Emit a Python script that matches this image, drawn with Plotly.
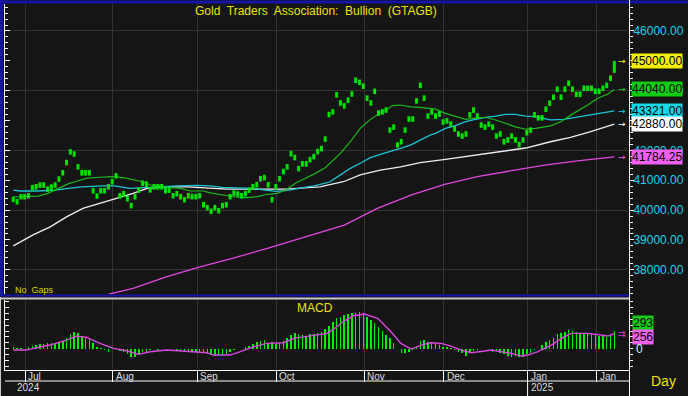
import plotly.graph_objects as go

W, H = 688, 396

# ---------------- data ----------------
closes = [40360, 40280, 40450, 40450, 40480, 40750, 40780, 40840, 40840, 40700,
          40770, 40840, 41040, 41250, 41590, 41950, 41880, 41450, 41250, 41250,
          41250, 40650, 40470, 40650, 40650, 40780, 40950, 41150, 40480, 40550,
          40380, 40150, 40450, 40670, 40900, 40870, 40680, 40780, 40780, 40780,
          40650, 40670, 40480, 40550, 40450, 40350, 40480, 40450, 40450, 40480,
          40180, 40080, 39960, 40080, 39980, 40150, 40180, 40450, 40570, 40540,
          40480, 40550, 40670, 40780, 40850, 41050, 41090, 40850, 40350, 40780,
          41050, 41290, 41450, 41890, 41760, 41390, 41550, 41550, 41690, 41790,
          41960, 42060, 42380, 43200, 43290, 43860, 43590, 43490, 43680, 43890,
          44350, 44280, 44150, 43750, 43590, 43980, 43250, 43290, 43350, 42680,
          42780, 42180, 42290, 42680, 43050, 43050, 43660, 44180, 43750, 43150,
          43290, 43150, 43220, 42950, 42990, 42880, 42720, 42550, 42480, 42550,
          43190, 43350, 43150, 42850, 42780, 42880, 42780, 42480, 42550, 42290,
          42350, 42480, 42350, 42190, 42350, 42590, 42680, 43190, 43090, 43090,
          43380, 43580, 43780, 44050, 43780, 44050, 44250, 44050, 43880, 43880,
          44080, 44080, 44080, 43980, 43980, 44080, 44180, 44420, 45000]
last_low = 44600

ma_fast_x = [0, 3.1, 6.5, 9.1, 11.8, 14.4, 16.2, 19.4, 22.8, 26, 28.9, 31.5, 34.1, 36, 38.6,
             41.2, 43.9, 46.5, 49.9, 51.8, 53.9, 55.7, 58.3, 61.5, 64.1, 66.8, 69.4, 72,
             74.1, 76.8, 79.4, 82, 83.3, 86, 88.6, 91.2, 93.9, 96.5, 98.3, 99.7, 101.8,
             104.4, 107, 109.7, 111, 113.6, 116.2, 118.9, 121.5, 124.1, 126.8, 129.4, 132,
             134.7, 137.3, 141.2, 143.9, 147.3, 151, 153.6, 156.2, 158]
ma_fast = [40440, 40450, 40470, 40560, 40710, 40880, 40950, 41070, 41100, 41120, 41090, 41010,
           40950, 40840, 40810, 40750, 40730, 40640, 40640, 40580, 40540, 40500, 40440, 40420,
           40450, 40530, 40560, 40700, 40900, 41070, 41230, 41420, 41570, 41900, 42290, 42740,
           43040, 43260, 43380, 43500, 43520, 43460, 43440, 43410, 43380, 43240, 43130, 43040,
           43080, 43110, 43020, 42910, 42790, 42710, 42740, 42820, 42960, 43240, 43520, 43750,
           43880, 44040]

ma_mid_x = [0, 1.8, 6.5, 11, 14.4, 18.1, 23.3, 26.5, 30.7, 33.3, 36, 40.4, 43.1, 48.3, 51.8,
            54.9, 59.7, 62.8, 66.2, 68.9, 71.5, 74.1, 76.8, 79.4, 82, 83.3, 86, 88.6, 91.2,
            93.9, 96.5, 99.1, 101.8, 104.4, 107, 109.7, 111, 113.6, 116.2, 118.9, 121.5,
            124.1, 126.8, 129.4, 132, 134.7, 137.3, 141.2, 144.7, 149.1, 153.6, 158]
ma_mid = [40670, 40640, 40640, 40670, 40730, 40780, 40810, 40810, 40730, 40750, 40780, 40810,
          40810, 40830, 40810, 40760, 40750, 40730, 40670, 40630, 40650, 40700, 40750, 40820,
          40900, 40950, 41180, 41400, 41570, 41760, 41870, 41960, 42070, 42180, 42350, 42520,
          42570, 42740, 42830, 42960, 43040, 43110, 43150, 43210, 43210, 43150, 43130, 43020,
          43040, 43130, 43240, 43321]

ma_slow_x = [0, 5.2, 9.7, 14.1, 18.3, 22.8, 27.3, 31.5, 35.2, 40.4, 45.7, 51, 56.2, 61.5, 66.8,
             72, 77.3, 80.7, 82.6, 86.8, 91.2, 96.5, 101.8, 107, 113.6, 118.9, 124.1, 129.4,
             134.7, 141.2, 146.5, 151.8, 155.2, 158]
ma_slow = [38800, 39170, 39440, 39780, 40060, 40230, 40420, 40560, 40730, 40780, 40780, 40730,
           40700, 40700, 40700, 40700, 40750, 40780, 40840, 40950, 41180, 41340, 41450, 41590,
           41700, 41790, 41900, 41990, 42080, 42290, 42440, 42630, 42770, 42880]

ma_long_x = [23, 25.4, 31.5, 40.4, 49.1, 57.8, 66.8, 75.5, 84.1, 87, 95.7, 104.7, 113.4, 122,
             131, 139.7, 148.3, 158]
ma_long = [37100, 37190, 37380, 37770, 38100, 38390, 38720, 39060, 39370, 39500, 40060, 40510,
           40860, 41120, 41320, 41510, 41650, 41784.25]

macd = [23, 6, 6, 0, 23, 45, 62, 79, 74, 91,
        91, 102, 119, 136, 176, 244, 278, 261, 221, 204,
        187, 91, 23, 6, -23, -51, 0, -11, -34, -51,
        -96, -136, -142, -91, -62, -51, -23, -11, -23, 0,
        0, -11, -11, -23, -34, -51, -45, -40, -51, -51,
        -68, -91, -108, -119, -125, -119, -96, -51, -28, -11,
        0, 23, 45, 79, 108, 136, 147, 91, 119, 79,
        91, 136, 176, 232, 261, 249, 232, 221, 244, 244,
        261, 289, 329, 386, 459, 516, 544,
        570, 590, 600, 612, 624, 601, 544, 488, 431, 363,
        306, 232, 176, 102, -11, -68, -79, -57, -23, 45,
        136, 147, 119, 102, 91, 62, 34, 23, 6, -23,
        -51, -79, -125, -79, -45, -23, -11, -6, -11, -51,
        -45, -68, -91, -119, -136, -125, -136, -136, -96, -68,
        -23, 0, 62, 119, 147, 187, 244, 261, 289, 318,
        306, 289, 272, 261, 272, 272, 249, 221, 221, 204,
        232, 293]

signal_x = [0, 3.5, 5.3, 9.6, 14.0, 16.7, 19.3, 22.8, 26.3, 29.8, 32.9, 36, 40.4, 45.6, 50.9,
            52.6, 57, 59.7, 63.2, 66.7, 71.1, 73.7, 78.1, 82.5, 84.2, 87, 89.5, 92.3, 95.8,
            99.3, 101.9, 104.6, 107.2, 109.8, 112.5, 115.1, 117.7, 120.4, 123.9, 125.6, 128.3,
            130.9, 133.5, 135.3, 137.9, 141.4, 144.9, 146.7, 151.1, 153.7, 156.3, 158]
signal = [-23, -23, 6, 62, 147, 215, 193, 91, 6, -34, -96, -51, -23, -51, -68,
          -108, -108, -51, 34, 91, 102, 176, 215, 261, 330, 470, 560, 590, 516,
          289, 91, -6, 62, 102, 91, 45, -23, -68, -40, -23, -51,
          -79, -125, -108, -51, 62, 204, 261, 261, 244, 215, 256]

month_pos = [3.1, 26.2, 48.3, 69.1, 92.2, 113.2, 135.2, 153.4]
month_labels = ["Jul", "Aug", "Sep", "Oct", "Nov", "Dec", "Jan", "Jan"]
year_pos = [0.2, 135.2]
year_labels = ["2024", "2025"]

# ---------------- styling ----------------
BG = "#151515"
GRID = "#333333"
FONT = "Liberation Sans, Arial, sans-serif"
C_BAR = "#00e000"
C_FAST = "#1db81d"
C_MID = "#1cc4d4"
C_SLOW = "#eeeeee"
C_LONG = "#e048e0"
C_SIG = "#d848e0"

X_RANGE = [-2.18, 161.86]
Y_RANGE = [37190, 46904]
Y2_RANGE = [-362, 828]

def px_x(p):
    return p / W

def px_y(p):
    return 1 - p / H

main_dom = [px_y(294), px_y(4)]
macd_dom = [px_y(370), px_y(300)]
x_dom = [px_x(5), px_x(629)]

idx = list(range(len(closes)))

fig = go.Figure()
fig.add_trace(go.Scatter(x=ma_long_x, y=ma_long, mode="lines",
                         line=dict(color=C_LONG, width=1.3), hoverinfo="skip"))
fig.add_trace(go.Scatter(x=ma_slow_x, y=ma_slow, mode="lines",
                         line=dict(color=C_SLOW, width=1.3), hoverinfo="skip"))
fig.add_trace(go.Scatter(x=ma_mid_x, y=ma_mid, mode="lines",
                         line=dict(color=C_MID, width=1.3), hoverinfo="skip"))
fig.add_trace(go.Scatter(x=ma_fast_x, y=ma_fast, mode="lines",
                         line=dict(color=C_FAST, width=1.2), hoverinfo="skip"))
fig.add_trace(go.Scatter(x=idx[:-1], y=closes[:-1], mode="markers",
                         marker=dict(symbol="line-ns", size=4, color=C_BAR,
                                     line=dict(width=3, color=C_BAR))))
fig.add_trace(go.Scatter(x=[idx[-1], idx[-1]], y=[last_low, closes[-1]], mode="lines",
                         line=dict(color=C_BAR, width=3)))
# overlay axes registration
fig.add_trace(go.Scatter(x=[], y=[], xaxis="x", yaxis="y3", hoverinfo="skip"))
fig.add_trace(go.Scatter(x=[], y=[], xaxis="x", yaxis="y4", hoverinfo="skip"))
fig.add_trace(go.Scatter(x=[], y=[], xaxis="x2", yaxis="y5", hoverinfo="skip"))

fig.add_trace(go.Bar(x=idx, y=macd, width=0.4, marker=dict(color="#00f000", line=dict(width=0)),
                     xaxis="x2", yaxis="y2"))
fig.add_trace(go.Scatter(x=signal_x, y=signal, mode="lines", line=dict(color=C_SIG, width=1.4),
                         xaxis="x2", yaxis="y2"))

common_x = dict(range=X_RANGE, domain=x_dom, tickmode="array", tickvals=month_pos,
                showgrid=True, gridcolor=GRID, gridwidth=1, zeroline=False,
                showticklabels=False, fixedrange=True)

fig.update_layout(
    width=W, height=H, margin=dict(l=0, r=0, t=0, b=0),
    paper_bgcolor=BG, plot_bgcolor=BG, showlegend=False, bargap=0,
    font=dict(family=FONT, color="#dddddd", size=11),
    xaxis=dict(anchor="y", ticks="", showline=False, **common_x),
    xaxis2=dict(anchor="y2", ticks="outside", ticklen=11, tickcolor="#ffffff", tickwidth=1,
                showline=True, linecolor="#ffffff", linewidth=1, **common_x),
    yaxis=dict(domain=main_dom, range=Y_RANGE, anchor="x", side="right", tick0=0, dtick=1000,
               tickformat=".2f", tickfont=dict(color="#12d4e6", size=12, family=FONT),
               ticks="outside", ticklen=4, tickcolor="#ffffff", ticklabelstandoff=-3,
               minor=dict(dtick=200, ticks="outside", ticklen=3, tickcolor="#ffffff"),
               showgrid=False, zeroline=False, showline=True, linecolor="#ffffff",
               linewidth=1, fixedrange=True),
    yaxis3=dict(overlaying="y", anchor="x", side="left", range=Y_RANGE, tick0=0, dtick=1000,
                ticks="inside", ticklen=5, tickcolor="#ffffff", showticklabels=False,
                minor=dict(dtick=200, ticks="inside", ticklen=3, tickcolor="#ffffff"),
                showgrid=False, zeroline=False, showline=True, linecolor="#ffffff"),
    yaxis4=dict(overlaying="y", anchor="x", side="left", range=Y_RANGE, tick0=0, dtick=2000,
                ticks="", showticklabels=False, showgrid=True, gridcolor=GRID,
                zeroline=False, showline=False),
    yaxis2=dict(domain=macd_dom, range=Y2_RANGE, anchor="x2", side="right", tick0=0, dtick=100,
                ticks="outside", ticklen=3, tickcolor="#ffffff", showticklabels=False,
                showgrid=False, zeroline=False, showline=True, linecolor="#ffffff",
                fixedrange=True),
    yaxis5=dict(overlaying="y2", anchor="x2", side="left", range=Y2_RANGE, tick0=0, dtick=100,
                ticks="inside", ticklen=4, tickcolor="#ffffff", showticklabels=False,
                showgrid=False, zeroline=False, showline=True, linecolor="#ffffff"),
)

ann = []
def note(**kw):
    kw.setdefault("showarrow", False)
    kw.setdefault("xanchor", "center")
    kw.setdefault("yanchor", "middle")
    ann.append(kw)

note(text="Gold\u00a0 Traders\u00a0 Association:\u00a0 Bullion\u00a0 (GTAGB)",
     x=px_x(316), y=px_y(11), xref="paper", yref="paper",
     font=dict(color="#e6e600", size=12, family=FONT))
note(text="No\u00a0 Gaps", x=px_x(13), y=px_y(290), xref="paper", yref="paper",
     xanchor="left", font=dict(color="#d8d800", size=9, family=FONT))
note(text="MACD", x=px_x(315), y=px_y(308), xref="paper", yref="paper",
     font=dict(color="#e6e600", size=12, family=FONT))
note(text="Day", x=px_x(663), y=px_y(381), xref="paper", yref="paper",
     font=dict(color="#e6e600", size=14, family=FONT))

for p, t in zip(month_pos, month_labels):
    note(text=t, x=p, y=px_y(376), xref="x2", yref="paper", xanchor="left",
         xshift=1, font=dict(color="#dddddd", size=10, family=FONT))
for p, t in zip(year_pos, year_labels):
    note(text=t, x=p, y=px_y(387.5), xref="x2", yref="paper", xanchor="left",
         xshift=1, font=dict(color="#dddddd", size=10, family=FONT))

# right-side value boxes
boxes = [(closes[-1], "#f0f000", "#000000"),
         (ma_fast[-1], "#10cc10", "#000000"),
         (ma_mid[-1], "#10d8e8", "#000000"),
         (ma_slow[-1], "#ffffff", "#000000"),
         (ma_long[-1], "#f060f0", "#000000")]
for v, bg, fg in boxes:
    note(text=f"{v:.2f}", x=px_x(631), y=v, xref="paper", yref="y", xanchor="left",
         bgcolor=bg, borderpad=0, font=dict(color=fg, size=12, family=FONT))
    note(text="\u2192", x=px_x(622), y=v, xref="paper", yref="y",
         font=dict(color=bg, size=9, family="DejaVu Sans"))

note(text=f"{macd[-1]:.0f}", x=px_x(632), y=macd[-1], xref="paper", yref="y2",
     xanchor="left", yshift=8, bgcolor="#10cc10", borderpad=0,
     font=dict(color="#000000", size=12, family=FONT))
note(text=f"{signal[-1]:.0f}", x=px_x(632), y=signal[-1], xref="paper", yref="y2",
     xanchor="left", yshift=-3, bgcolor="#f060f0", borderpad=0,
     font=dict(color="#000000", size=12, family=FONT))
note(text="0", x=px_x(634), y=0, xref="paper", yref="y2", xanchor="left",
     font=dict(color="#cfe8ff", size=12, family=FONT))
note(text="\u21c9", x=px_x(622), y=macd[-1], xref="paper", yref="y2",
     yshift=-3, font=dict(color="#d040d8", size=9, family="DejaVu Sans"))
fig.update_layout(annotations=ann)

shapes = []
BLUE = "#1414a8"
shapes.append(dict(type="line", xref="paper", yref="paper", x0=0, x1=1, y0=px_y(2), y1=px_y(2),
                   line=dict(color=BLUE, width=3)))
shapes.append(dict(type="line", xref="paper", yref="paper", x0=px_x(1.5), x1=px_x(1.5),
                   y0=px_y(0), y1=px_y(296), line=dict(color=BLUE, width=3)))
shapes.append(dict(type="line", xref="paper", yref="paper", x0=0, x1=px_x(629),
                   y0=px_y(295.5), y1=px_y(295.5), line=dict(color=BLUE, width=2)))
shapes.append(dict(type="line", xref="paper", yref="paper", x0=0, x1=px_x(629),
                   y0=px_y(298.5), y1=px_y(298.5), line=dict(color="#c8c8c8", width=2)))
shapes.append(dict(type="line", xref="paper", yref="paper", x0=px_x(0.5), x1=px_x(0.5),
                   y0=px_y(297), y1=0, line=dict(color="#c8c8c8", width=1)))
shapes.append(dict(type="line", xref="paper", yref="paper", x0=px_x(629.5), x1=px_x(629.5),
                   y0=0, y1=1, line=dict(color="#ffffff", width=1)))
shapes.append(dict(type="line", xref="paper", yref="paper", x0=px_x(5), x1=px_x(629),
                   y0=px_y(381), y1=px_y(381), line=dict(color="#ffffff", width=1)))
shapes.append(dict(type="line", xref="x2", yref="paper", x0=year_pos[1], x1=year_pos[1],
                   y0=px_y(381), y1=0, line=dict(color="#ffffff", width=1)))
fig.update_layout(shapes=shapes)

fig.write_html("out.html", config={"staticPlot": True},
               post_script="document.body.style.margin='0';document.body.style.padding='0';"
                           "document.body.style.overflow='hidden';"
                           "document.body.style.background='#151515';")
